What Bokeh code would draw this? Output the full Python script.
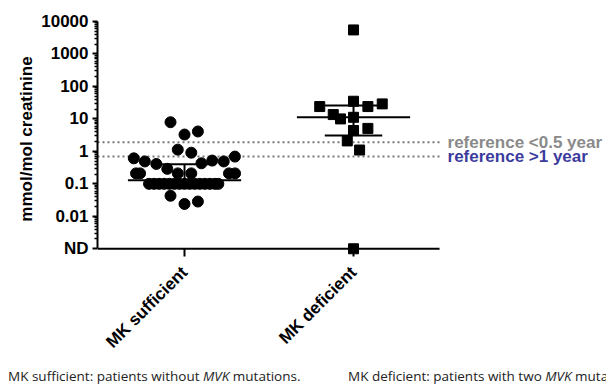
import math

from bokeh.core.properties import value
from bokeh.embed import file_html
from bokeh.layouts import column
from bokeh.models import ColumnDataSource, Div, FixedTicker, Range1d
from bokeh.plotting import figure
from bokeh.resources import INLINE

# ---- data -------------------------------------------------------------
groups = ["MK sufficient", "MK deficient"]
ND_LEVEL = 0.001            # "not detected" is plotted on the 10^-3 line

# MK sufficient patients (mmol/mol creatinine)
sufficient_values = [
    7.9, 3.3, 4.1, 1.13, 0.91,
    0.61, 0.49, 0.41, 0.29, 0.43, 0.52, 0.49, 0.69,
    0.21, 0.21, 0.21, 0.21, 0.21, 0.21,
    0.1, 0.1, 0.1, 0.1, 0.1, 0.1, 0.1, 0.1, 0.1, 0.1, 0.1, 0.1, 0.1, 0.1, 0.1,
    0.043, 0.024, 0.0285,
]
# horizontal scatter of each dot around its category
sufficient_spread = [
    -0.083, 0.0, 0.079, -0.04, 0.04,
    -0.30, -0.235, -0.167, -0.102, 0.10, 0.164, 0.232, 0.298,
    -0.287, -0.263, -0.04, 0.04, 0.263, 0.299,
    -0.21, -0.18, -0.15, -0.12, -0.09, -0.06, -0.03, 0.0,
    0.03, 0.06, 0.09, 0.12, 0.15, 0.18, 0.20,
    -0.083, 0.0, 0.079,
]
sufficient_center, sufficient_upper, sufficient_lower = 0.13, 0.40, 0.10

# MK deficient patients; None = not detected
deficient_values = [5500, 24, 35, 24, 29, 13.6, 10, 11.2, 4.4, 5.1, 2.1, 1.1, None]
deficient_spread = [0.0, -0.2, 0.0, 0.085, 0.17, -0.12, -0.077, 0.0, 0.0, 0.085,
                    -0.037, 0.036, 0.0]
deficient_center, deficient_upper, deficient_lower = 11.2, 25.7, 3.06

# reference limits
reference_values = [1.9, 0.7]
reference_labels = ["reference <0.5 year", "reference >1 year"]
reference_colors = ["#8a8a8a", "#3b3b9e"]

y_ticks = [0.001, 0.01, 0.1, 1, 10, 100, 1000, 10000]
y_tick_labels = ["ND", "0.01", "0.1", "1", "10", "100", "1000", "10000"]

# caption lines
captions = [
    "MK sufficient: patients without <i>MVK</i> mutations.",
    "MK deficient: patients with two <i>MVK</i> mutations.",
]

# ---- main chart -------------------------------------------------------
W = 606
CHART_H, CAPTION_H = 365, 22
LEFT, TOP, BOTTOM = 97, 21, 109
X0, X_AXIS_END, X1 = -0.515, 1.509, 2.497
Y0 = 10 ** (math.log10(ND_LEVEL) - 0.238)
BOLD = value("Liberation Sans")

p = figure(
    width=W, height=CHART_H, output_backend="svg", toolbar_location=None,
    x_range=Range1d(X0, X1), y_range=Range1d(Y0, 1e4), y_axis_type="log",
    min_border_left=LEFT, min_border_right=0,
    min_border_top=TOP, min_border_bottom=BOTTOM,
    background_fill_color="white", border_fill_color="white",
)
p.outline_line_color = None
p.grid.visible = False

# y axis
ya = p.yaxis[0]
ya.ticker = FixedTicker(
    ticks=y_ticks,
    minor_ticks=[k * 10 ** d for d in range(-3, 4) for k in range(2, 10)],
)
ya.major_label_overrides = {t: s for t, s in zip(y_ticks, y_tick_labels)}
ya.bounds = (ND_LEVEL, 1e4)
ya.axis_line_width = 2
ya.major_tick_line_width = 2
ya.minor_tick_line_width = 1.5
ya.major_tick_out, ya.major_tick_in = 5, 0
ya.minor_tick_out, ya.minor_tick_in = 3, 0
ya.major_label_standoff = 4
ya.major_label_text_font = "Liberation Sans"
ya.major_label_text_font_style = "bold"
ya.major_label_text_font_size = "17px"
ya.major_label_text_color = "black"
ya.axis_label = "mmol/mol creatinine"
ya.axis_label_text_font = "Liberation Sans"
ya.axis_label_text_font_style = "bold"
ya.axis_label_text_font_size = "17px"
ya.axis_label_text_color = "black"
ya.axis_label_standoff = 2

# x axis: ticks reach up to the ND line, which is drawn below as a segment
xa = p.xaxis[0]
xa.ticker = FixedTicker(ticks=list(range(len(groups))), minor_ticks=[])
xa.major_label_overrides = {i: g for i, g in enumerate(groups)}
xa.major_label_orientation = math.pi / 4
xa.axis_line_color = None
xa.major_tick_line_width = 2
xa.major_tick_out, xa.major_tick_in = 0, 8
xa.major_label_standoff = 13
xa.major_label_text_font = "Liberation Sans"
xa.major_label_text_font_style = "bold"
xa.major_label_text_font_size = "17px"
xa.major_label_text_color = "black"

# reference lines and their labels
p.segment(x0=[X0] * 2, x1=[X_AXIS_END] * 2, y0=reference_values,
          y1=reference_values, line_color="#777777", line_width=2,
          line_dash="2 3")
p.text(x=[X_AXIS_END] * 2, y=reference_values, text=reference_labels,
       x_offset=8, text_align="left", text_baseline="middle",
       text_font=BOLD, text_font_style="bold", text_font_size="17px",
       text_color=reference_colors)

# summary lines (centre line + whiskers) for each group
for gi, (c, up, lo, half) in enumerate([
    (sufficient_center, sufficient_upper, sufficient_lower, 0.15),
    (deficient_center, deficient_upper, deficient_lower, 0.17),
]):
    p.segment(x0=[gi - 0.335], x1=[gi + 0.335], y0=[c], y1=[c],
              line_color="black", line_width=2)
    p.segment(x0=[gi - half, gi - half, gi], x1=[gi + half, gi + half, gi],
              y0=[up, lo, lo], y1=[up, lo, up], line_color="black", line_width=2)

# individual patients
suf = ColumnDataSource(dict(
    x=[0 + s for s in sufficient_spread], y=sufficient_values))
p.scatter("x", "y", source=suf, marker="circle", size=11,
          fill_color="black", line_color="black")

dfc = ColumnDataSource(dict(
    x=[1 + s for s in deficient_spread],
    y=[ND_LEVEL if v is None else v for v in deficient_values]))
p.scatter("x", "y", source=dfc, marker="square", size=10,
          fill_color="black", line_color="black")

# x axis line on the ND level
p.segment(x0=[X0], x1=[X_AXIS_END], y0=[ND_LEVEL], y1=[ND_LEVEL],
          line_color="black", line_width=2)

# ---- caption strip ----------------------------------------------------
caption_left = [8, 348]
spans = "".join(
    f'<span style="position:absolute;left:{x}px;top:2px;">{t}</span>'
    for x, t in zip(caption_left, captions)
)
cap = Div(
    text=(f'<div style="position:relative;width:{W}px;height:{CAPTION_H}px;'
          'overflow:hidden;white-space:nowrap;font-family:\'Open Sans\';'
          'font-size:13.5px;line-height:18px;color:#222222;">'
          f'{spans}</div>'),
    width=W, height=CAPTION_H, margin=(0, 0, 0, 0),
)

open("out.html", "w").write(file_html(column(p, cap, spacing=0), INLINE))
